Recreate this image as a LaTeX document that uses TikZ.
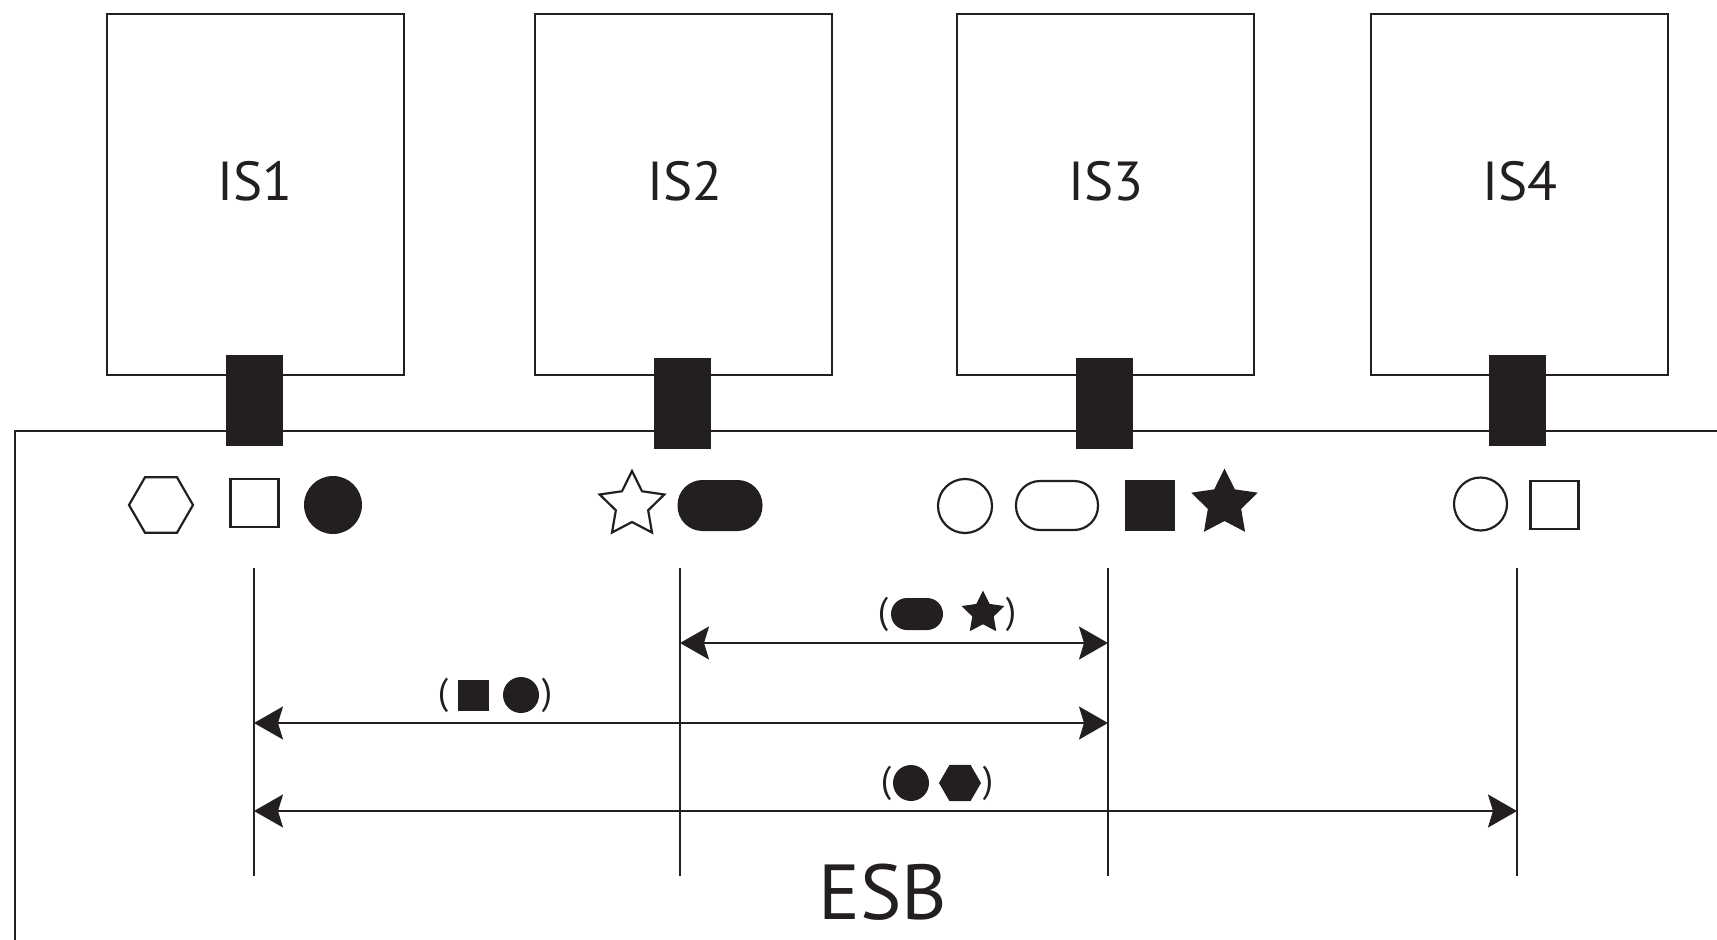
\documentclass[tikz,border=0pt]{standalone}
\usepackage{fontspec}
\setmainfont{PT Sans}
\usetikzlibrary{shapes.geometric,arrows.meta}
\definecolor{ink}{HTML}{231F20}
\tikzset{
  isbox/.style={draw=ink, line width=2.2pt, minimum width=297pt, minimum height=361pt, inner sep=0pt},
  port/.style={fill=ink, minimum width=57pt, minimum height=91pt, inner sep=0pt},
  islabel/.style={text=ink, font=\fontsize{55}{60}\selectfont, inner sep=0pt},
  osym/.style={draw=ink, line width=2.2pt, inner sep=0pt, fill=white},
  fsym/.style={fill=ink, inner sep=0pt},
  hexa/.style={regular polygon, regular polygon sides=6},
  stara/.style={star, star points=5, star point ratio=2.0},
  paren/.style={text=ink, font=\fontsize{37}{40}\selectfont, inner sep=0pt},
  vline/.style={draw=ink, line width=2.2pt},
  tipa/.tip={Stealth[length=29pt,width=33pt,inset=5pt]},
  dimline/.style={draw=ink, line width=2.2pt, tipa-tipa},
}
\begin{document}
\begin{tikzpicture}[x=1pt,y=-1pt]
\useasboundingbox (0,0) rectangle (1717,940);
% ESB frame
\draw[draw=ink, line width=2.2pt] (15,941) -- (15,431) -- (1718,431);
% IS boxes
\node[isbox] (is1) at (255.5,194.5) {};
\node[isbox] (is2) at (683.5,194.5) {};
\node[isbox] (is3) at (1105.5,194.5) {};
\node[isbox] (is4) at (1519.5,194.5) {};
\node[islabel] (l1) at (255,181) {IS1};
\node[islabel] (l2) at (685,181) {IS2};
\node[islabel] (l3) at (1106,181) {IS3};
\node[islabel] (l4) at (1520,181) {IS4};
% ports
\node[port] (p1) at (254.5,400.5) {};
\node[port] (p2) at (682.5,403.5) {};
\node[port] (p3) at (1104,403.5) {};
\node[port] (p4) at (1517.5,400.5) {};
% symbols IS1
\node[osym, hexa, minimum size=64pt] (s11) at (161,505) {};
\node[osym, rectangle, minimum size=48pt] (s12) at (254.5,503) {};
\node[fsym, circle, minimum size=58pt] (s13) at (333,505) {};
% symbols IS2
\node[osym, stara, minimum size=68pt] (s21) at (632,505) {};
\node[fsym, rectangle, rounded corners=25pt, minimum width=85pt, minimum height=51pt] (s22) at (720,505.5) {};
% symbols IS3
\node[osym, circle, minimum size=54pt] (s31) at (965,506) {};
\node[osym, rectangle, rounded corners=24pt, minimum width=82pt, minimum height=49pt] (s32) at (1057,505.5) {};
\node[fsym, rectangle, minimum width=50pt, minimum height=51pt] (s33) at (1150,505.5) {};
\node[fsym, stara, minimum size=70pt] (s34) at (1224.5,503.5) {};
% symbols IS4
\node[osym, circle, minimum size=53pt] (s41) at (1480.5,504) {};
\node[osym, rectangle, minimum size=48pt] (s42) at (1554.5,505) {};
% vertical lines
\coordinate (v1t) at (254,568); \coordinate (v1b) at (254,876);
\coordinate (v2t) at (680,568); \coordinate (v2b) at (680,876);
\coordinate (v3t) at (1108,568); \coordinate (v3b) at (1108,876);
\coordinate (v4t) at (1517,568); \coordinate (v4b) at (1517,876);
\draw[vline] (v1t) -- (v1b);
\draw[vline] (v2t) -- (v2b);
\draw[vline] (v3t) -- (v3b);
\draw[vline] (v4t) -- (v4b);
% arrows
\coordinate (a1l) at (680,643); \coordinate (a1r) at (1108,643);
\coordinate (a2l) at (254,723); \coordinate (a2r) at (1108,723);
\coordinate (a3l) at (254,811); \coordinate (a3r) at (1517,811);
\draw[dimline] (a1l) -- (a1r);
\draw[dimline] (a2l) -- (a2r);
\draw[dimline] (a3l) -- (a3r);
% label 1
\node[paren] (q1a) at (883,614) {(};
\node[fsym, rectangle, rounded corners=16pt, minimum width=52pt, minimum height=32pt] (q1b) at (917,614) {};
\node[fsym, stara, minimum size=45pt] (q1c) at (983,613) {};
\node[paren] (q1d) at (1011,614) {)};
% label 2
\node[paren] (q2a) at (443,695) {(};
\node[fsym, rectangle, minimum size=31pt] (q2b) at (473.5,695) {};
\node[fsym, circle, minimum size=36pt] (q2c) at (521,695) {};
\node[paren] (q2d) at (547,695) {)};
% label 3
\node[paren] (q3a) at (886,783) {(};
\node[fsym, circle, minimum size=36pt] (q3b) at (911,783) {};
\node[fsym, hexa, minimum size=42pt] (q3c) at (960,783) {};
\node[paren] (q3d) at (988,783) {)};
% ESB
\node[islabel, font=\fontsize{78}{80}\selectfont] (esb) at (883,892) {ESB};
\end{tikzpicture}
\end{document}
